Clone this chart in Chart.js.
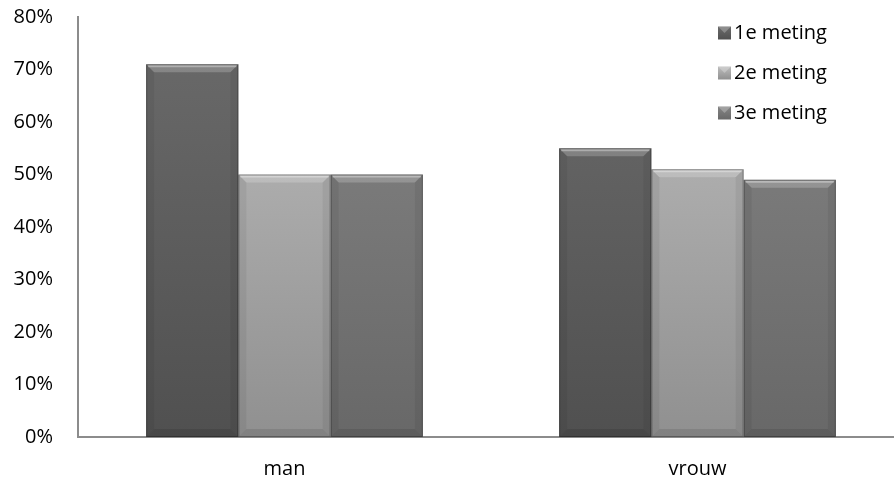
<!DOCTYPE html>
<html>
<head>
<meta charset="utf-8">
<script src="https://cdn.jsdelivr.net/npm/chart.js@4/dist/chart.umd.min.js"></script>
<style>
  html, body { margin: 0; padding: 0; background: #fff; overflow: hidden; }
  #wrap { width: 904px; height: 481px; }
</style>
</head>
<body>
<div id="wrap"><canvas id="c"></canvas></div>
<script>
const categories = ['man', 'vrouw'];
const seriesNames = ['1e meting', '2e meting', '3e meting'];
const meting1 = [71, 55];
const meting2 = [50, 51];
const meting3 = [50, 49];
const yTicks = [0, 10, 20, 30, 40, 50, 60, 70, 80];

// top / bottom colours of each series gradient
const shades = [
    ['#6b6b6b', '#505050'],
    ['#bdbdbd', '#909090'],
    ['#858585', '#686868']
];
const FONT = '"Open Sans", "Noto Sans", sans-serif';
const FONT_SIZE = 20;

function barFill(i) {
    return (ctx) => {
        const area = ctx.chart.chartArea;
        if (!area) return shades[i][0];
        const g = ctx.chart.ctx.createLinearGradient(0, area.top, 0, area.bottom);
        g.addColorStop(0, shades[i][0]);
        g.addColorStop(1, shades[i][1]);
        return g;
    };
}

// soft bevel on every bar, using the bar elements Chart.js laid out
const bevel = {
    id: 'bevel',
    afterDatasetsDraw(chart) {
        const c = chart.ctx;
        c.save();
        chart.data.datasets.forEach((ds, i) => {
            chart.getDatasetMeta(i).data.forEach(bar => {
                const l = bar.x - bar.width / 2, r = bar.x + bar.width / 2;
                const t = bar.y, b = bar.base, d = 8;
                c.fillStyle = 'rgba(255,255,255,0.20)';
                c.beginPath();
                c.moveTo(l, t); c.lineTo(r, t); c.lineTo(r - d, t + d); c.lineTo(l + d, t + d);
                c.closePath(); c.fill();
                c.fillStyle = 'rgba(255,255,255,0.35)';
                c.fillRect(l + 2, t + 1, bar.width - 4, 2);
                c.fillStyle = 'rgba(0,0,0,0.06)';
                c.beginPath();
                c.moveTo(l, t); c.lineTo(l + d, t + d); c.lineTo(l + d, b - d); c.lineTo(l, b);
                c.closePath(); c.fill();
                c.beginPath();
                c.moveTo(r, t); c.lineTo(r - d, t + d); c.lineTo(r - d, b - d); c.lineTo(r, b);
                c.closePath(); c.fill();
                c.fillStyle = 'rgba(0,0,0,0.10)';
                c.beginPath();
                c.moveTo(l, b); c.lineTo(r, b); c.lineTo(r - d, b - d); c.lineTo(l + d, b - d);
                c.closePath(); c.fill();
                c.strokeStyle = 'rgba(0,0,0,0.30)';
                c.lineWidth = 1;
                c.strokeRect(l + 0.5, t + 0.5, bar.width - 1, b - t - 1);
            });
        });
        c.restore();
    }
};

// legend drawn inside the plot, top right
const sideLegend = {
    id: 'sideLegend',
    afterDraw(chart) {
        const c = chart.ctx;
        const x = 718, y0 = 33, step = 40, box = 13;
        c.save();
        c.font = FONT_SIZE + 'px ' + FONT;
        c.textBaseline = 'middle';
        chart.data.datasets.forEach((ds, i) => {
            const y = y0 + i * step;
            const g = c.createLinearGradient(0, y - box / 2, 0, y + box / 2);
            g.addColorStop(0, shades[i][0]);
            g.addColorStop(1, shades[i][1]);
            c.fillStyle = g;
            c.fillRect(x, y - box / 2, box, box);
            c.fillStyle = 'rgba(255,255,255,0.25)';
            c.beginPath();
            c.moveTo(x, y - box / 2); c.lineTo(x + box, y - box / 2);
            c.lineTo(x + box / 2, y); c.closePath(); c.fill();
            c.fillStyle = '#000';
            c.fillText(ds.label, x + box + 3, y);
        });
        c.restore();
    }
};

const datasets = [meting1, meting2, meting3].map((vals, i) => ({
    label: seriesNames[i],
    data: vals,
    backgroundColor: barFill(i),
    borderWidth: 0,
    categoryPercentage: 0.67,
    barPercentage: 1.0
}));

new Chart(document.getElementById('c'), {
    type: 'bar',
    data: { labels: categories, datasets },
    plugins: [bevel, sideLegend],
    options: {
        responsive: true,
        maintainAspectRatio: false,
        animation: false,
        layout: { padding: { top: 17, right: 0, left: 0, bottom: 0 } },
        plugins: {
            legend: { display: false },
            tooltip: { enabled: false }
        },
        scales: {
            x: {
                grid: { display: false, drawTicks: false },
                border: { display: true, color: '#8c8c8c', width: 2 },
                ticks: { color: '#000', font: { family: FONT, size: FONT_SIZE }, padding: 20 },
                afterFit: s => { s.height = 44; }
            },
            y: {
                min: 0,
                max: 80,
                afterBuildTicks: s => { s.ticks = yTicks.map(v => ({ value: v })); },
                grid: { display: false, drawTicks: false },
                border: { display: true, color: '#8c8c8c', width: 2 },
                ticks: {
                    color: '#000',
                    font: { family: FONT, size: FONT_SIZE },
                    padding: 25,
                    callback: v => v + '%'
                },
                afterFit: s => { s.width = 78; s.paddingTop = 0; s.paddingBottom = 0; }
            }
        }
    }
});
</script>
</body>
</html>
